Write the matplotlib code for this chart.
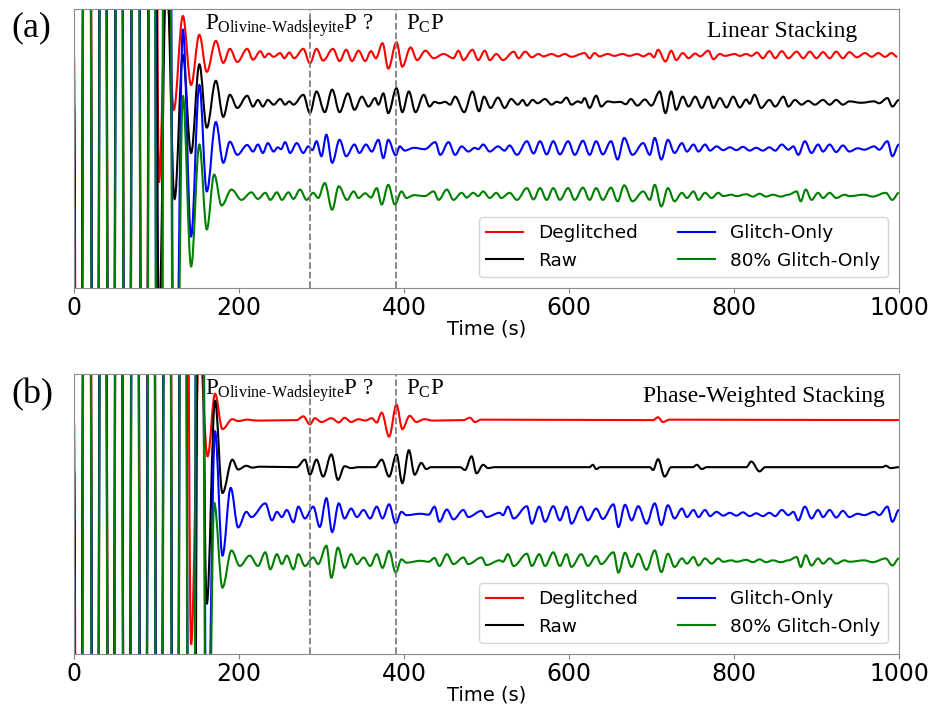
import matplotlib
matplotlib.use("Agg")
import matplotlib.pyplot as plt
from matplotlib.path import Path
from matplotlib.patches import PathPatch
from matplotlib.lines import Line2D

# stacked traces: extremum times (s) and amplitudes (in units of trace spacing)
GLITCH_A_T = [5, 16, 26, 35, 45, 55, 64, 75, 85, 95]
GLITCH_A_AMP = [-25, 25, -25, 25, -25, 25, -25, 25, -25, 25]

RED_A_T = [103, 112, 121, 132, 142, 152, 161, 172, 181, 189, 198, 210, 217, 226, 231, 236, 242, 250, 255, 261, 267,
           278, 286, 294, 302, 314, 322, 330, 337, 345, 353, 360, 366, 374, 381, 391, 398, 408, 416, 426, 436, 448,
           460, 466, 472, 483, 490, 498, 504, 512, 520, 533, 539, 547, 555, 563, 569, 579, 587, 595, 603, 619, 625,
           631, 637, 647, 655, 665, 673, 683, 690, 698, 703, 708, 717, 724, 730, 738, 745, 753, 759, 769, 775, 783,
           789, 801, 807, 815, 821, 828, 835, 843, 850, 858, 866, 876, 884, 892, 900, 908, 916, 924, 932, 940, 949,
           959, 967, 975, 983, 991, 998]
RED_A_AMP = [-2.72, 1.6, -1.17, 0.83, -0.64, 0.43, -0.36, 0.30, -0.17, 0.13, -0.15, 0.13, -0.10, 0.08, -0.05, 0.03,
             -0.04, 0.04, -0.07, 0.05, -0.07, 0.13, -0.18, 0.13, -0.12, 0.13, -0.13, 0.11, -0.13, 0.09, -0.13, 0.08,
             -0.07, 0.25, -0.29, 0.27, -0.25, 0.16, -0.11, 0.09, -0.07, 0.02, -0.07, 0.09, -0.11, 0.11, -0.11, 0.09,
             -0.11, 0.02, -0.11, 0.07, -0.07, 0.07, -0.05, 0.02, -0.03, 0.02, -0.03, 0.02, -0.04, 0.04, -0.07, 0.04,
             -0.03, 0.02, -0.02, 0.02, -0.02, 0.02, -0.03, 0.03, -0.05, 0.11, -0.14, 0.09, -0.11, 0.04, -0.07, 0.03,
             -0.03, 0.09, -0.09, 0.02, -0.02, 0.02, -0.02, 0.02, -0.02, 0.05, -0.07, 0.08, -0.07, 0.08, -0.07, 0.07,
             -0.07, 0.07, -0.07, 0.06, -0.07, 0.07, -0.07, 0.06, -0.05, 0.04, -0.04, 0.04, -0.04, 0.04, -0.04]

BLACK_A_T = [103, 112, 122, 132, 142, 152, 161, 172, 181, 189, 198, 210, 217, 223, 229, 235, 242, 250, 256, 261, 266,
             278, 286, 294, 304, 313, 322, 332, 340, 349, 357, 365, 369, 375, 381, 391, 398, 406, 414, 424, 431, 437,
             443, 450, 456, 462, 473, 483, 491, 497, 505, 514, 522, 530, 538, 544, 549, 556, 562, 571, 579, 585, 590,
             597, 603, 611, 615, 619, 625, 633, 639, 647, 655, 662, 669, 675, 683, 692, 700, 710, 717, 724, 730, 738,
             745, 753, 761, 769, 775, 783, 791, 799, 807, 815, 819, 825, 833, 843, 850, 860, 866, 874, 882, 890, 898,
             908, 916, 924, 932, 940, 954, 970, 976, 986, 992, 1000]
BLACK_A_AMP = [-5, 3, -2.07, 1.0, -1.09, 0.80, -0.55, 0.45, -0.32, 0.15, -0.13, 0.13, -0.10, 0.04, -0.10, 0.04, -0.06,
               0.06, -0.06, 0.01, -0.06, 0.15, -0.24, 0.22, -0.22, 0.26, -0.22, 0.18, -0.17, 0.11, -0.10, 0.08, -0.06,
               0.18, -0.24, 0.29, -0.22, 0.22, -0.22, 0.15, -0.10, 0.0, -0.03, 0.0, -0.06, 0.11, -0.22, 0.22, -0.20,
               0.11, -0.13, 0.09, -0.13, 0.06, -0.06, 0.04, -0.08, 0.04, -0.03, 0.06, -0.06, 0.0, -0.02, 0.09, -0.06,
               0.01, -0.02, 0.08, -0.13, 0.13, -0.10, 0.01, -0.01, 0.0, -0.05, 0.06, -0.08, 0.05, -0.08, 0.22, -0.24,
               0.22, -0.17, 0.11, -0.10, 0.11, -0.13, 0.11, -0.13, 0.08, -0.12, 0.11, -0.12, 0.05, -0.04, 0.15, -0.13,
               0.04, -0.10, 0.11, -0.10, 0.04, -0.06, 0.02, -0.06, 0.04, -0.06, 0.04, -0.06, 0.01, -0.02, 0.01, -0.03,
               0.08, -0.10, 0.04]

BLUE_A_T = [103, 112, 122, 132, 142, 152, 161, 172, 181, 189, 198, 210, 217, 223, 229, 235, 242, 247, 251, 256, 262,
            270, 278, 284, 289, 294, 300, 306, 313, 322, 330, 340, 346, 354, 361, 369, 375, 381, 390, 395, 401, 412,
            425, 438, 444, 454, 462, 470, 478, 486, 490, 496, 504, 514, 522, 528, 537, 549, 557, 565, 573, 581, 589,
            599, 607, 617, 625, 633, 641, 651, 659, 667, 677, 690, 698, 704, 712, 720, 728, 737, 743, 751, 757, 765,
            771, 779, 787, 795, 803, 811, 819, 827, 835, 843, 850, 858, 866, 872, 878, 886, 894, 902, 908, 916, 924,
            932, 940, 950, 958, 970, 976, 986, 992, 1000]
BLUE_A_AMP = [-25, 25, -8, 2.55, -1.87, 1.36, -0.91, 0.57, -0.30, 0.15, -0.13, 0.08, -0.06, 0.09, -0.09, 0.12, -0.06,
              0.03, -0.01, 0.14, -0.09, 0.12, -0.09, 0.05, -0.03, 0.16, -0.16, 0.30, -0.30, 0.19, -0.16, 0.09, -0.09,
              0.09, -0.06, 0.19, -0.20, 0.19, -0.14, 0.05, -0.04, 0.02, -0.01, 0.14, -0.13, 0.14, -0.13, 0.05, -0.06,
              0.02, -0.01, 0.09, -0.06, 0.05, -0.04, 0.07, -0.13, 0.16, -0.10, 0.16, -0.12, 0.16, -0.12, 0.16, -0.13,
              0.17, -0.13, 0.16, -0.12, 0.16, -0.23, 0.23, -0.13, 0.12, -0.13, 0.23, -0.23, 0.19, -0.09, 0.12, -0.06,
              0.09, -0.06, 0.09, -0.04, 0.05, -0.03, 0.03, -0.03, 0.04, -0.04, 0.02, -0.04, 0.03, -0.04, 0.09, -0.02,
              0.05, -0.13, 0.16, -0.09, 0.09, -0.06, 0.09, -0.07, 0.07, -0.06, 0.01, -0.02, 0.05, -0.02, 0.16, -0.16,
              0.09]

GREEN_A_T = [103, 112, 122, 132, 142, 152, 161, 170, 179, 191, 203, 215, 223, 232, 238, 246, 252, 260, 266, 274, 282,
             290, 296, 304, 313, 321, 331, 339, 345, 353, 360, 367, 373, 381, 389, 397, 403, 412, 425, 436, 442, 452,
             460, 470, 476, 484, 490, 496, 504, 512, 518, 528, 537, 549, 557, 565, 573, 581, 589, 599, 607, 617, 625,
             633, 641, 651, 659, 667, 677, 690, 698, 704, 712, 720, 728, 737, 743, 751, 757, 765, 773, 781, 787, 797,
             803, 815, 823, 831, 839, 847, 857, 866, 876, 881, 887, 894, 902, 908, 916, 924, 934, 940, 958, 968, 984,
             992, 1000]
GREEN_A_AMP = [-25, 25, -10, 2.13, -1.51, 1.09, -0.72, 0.45, -0.21, 0.13, -0.09, 0.07, -0.07, 0.06, -0.09, 0.07, -0.09,
               0.07, -0.07, 0.13, -0.09, 0.06, -0.05, 0.27, -0.30, 0.20, -0.09, 0.09, -0.05, 0.05, -0.04, 0.16, -0.19,
               0.23, -0.19, 0.09, -0.05, 0.01, -0.01, 0.09, -0.09, 0.13, -0.09, 0.06, -0.04, 0.06, -0.01, 0.09, -0.05,
               0.06, -0.05, 0.06, -0.09, 0.16, -0.08, 0.16, -0.09, 0.16, -0.09, 0.16, -0.09, 0.17, -0.09, 0.16, -0.09,
               0.17, -0.12, 0.22, -0.12, 0.09, -0.09, 0.23, -0.23, 0.16, -0.12, 0.06, -0.05, 0.09, -0.09, 0.06, -0.05,
               0.06, -0.01, 0.02, -0.01, 0.03, -0.02, 0.04, -0.02, 0.02, -0.02, 0.02, 0.09, -0.12, 0.13, -0.09, 0.06,
               -0.05, 0.06, -0.05, 0.02, -0.01, 0.02, -0.02, 0.06, -0.09, 0.06]

GLITCH_B_T = [5, 16, 26, 35, 45, 54, 64, 74, 84, 94, 103, 113, 123, 132]
GLITCH_B_AMP = [-25, 25, -25, 25, -25, 25, -25, 25, -25, 25, -25, 25, -25, 25]

RED_B_T = [142, 152, 162, 171, 180, 192, 199, 210, 222, 270, 278, 286, 292, 300, 312, 321, 328, 336, 345, 353, 361,
           367, 373, 382, 391, 398, 407, 415, 425, 435, 472, 480, 486, 494, 702, 708, 714, 722, 1000]
RED_B_AMP = [-4.77, 1.6, -0.77, 0.56, -0.19, 0.02, -0.02, 0.01, -0.01, 0.0, 0.08, -0.09, 0.04, -0.04, 0.04, -0.05,
             0.05, -0.04, 0.02, -0.01, 0.04, -0.05, 0.16, -0.35, 0.33, -0.19, 0.09, -0.04, 0.02, -0.01, 0.0, 0.05,
             -0.04, 0.01, 0.0, 0.06, -0.04, 0.01, 0.0]

BLACK_B_T = [142, 152, 161, 171, 180, 192, 199, 209, 216, 225, 270, 280, 286, 294, 302, 312, 320, 328, 336, 345, 365,
             373, 382, 391, 398, 406, 413, 421, 427, 433, 468, 474, 482, 488, 496, 502, 510, 625, 629, 633, 638, 698,
             702, 708, 716, 724, 750, 755, 761, 767, 815, 821, 831, 838, 980, 984, 990, 1000]
BLACK_B_AMP = [-25, 8, -2.91, 1.41, -0.55, 0.16, -0.05, 0.03, -0.01, 0.01, 0.0, 0.16, -0.16, 0.16, -0.20, 0.27,
               -0.27, 0.02, -0.02, 0.0, 0.0, 0.16, -0.20, 0.27, -0.34, 0.36, -0.16, 0.09, -0.04, 0.0, 0.0, -0.06,
               0.23, -0.13, 0.05, -0.02, 0.0, 0.0, 0.05, -0.04, 0.0, 0.0, -0.06, 0.17, -0.20, 0.0, 0.0, 0.05, -0.04,
               0.0, 0.0, 0.12, -0.09, 0.0, 0.0, 0.03, -0.02, 0.0]

BLUE_B_T = [142, 152, 161, 171, 180, 190, 199, 209, 215, 232, 240, 246, 252, 258, 266, 272, 280, 290, 298, 306, 313,
            321, 328, 336, 343, 351, 359, 367, 374, 382, 390, 397, 403, 420, 430, 437, 443, 452, 460, 472, 478, 494,
            500, 516, 520, 526, 533, 549, 555, 564, 571, 581, 589, 597, 603, 615, 623, 633, 641, 654, 660, 668, 676,
            684, 694, 704, 712, 720, 728, 737, 743, 751, 757, 765, 771, 779, 787, 795, 803, 811, 819, 827, 835, 843,
            850, 858, 866, 872, 878, 886, 894, 902, 908, 916, 924, 932, 940, 950, 958, 970, 976, 986, 992, 1000]
BLUE_B_AMP = [-25, 25, -6, 1.76, -0.88, 0.56, -0.28, 0.05, -0.06, 0.23, -0.13, 0.05, -0.06, 0.09, -0.17, 0.16,
              -0.09, 0.16, -0.27, 0.34, -0.38, 0.23, -0.09, 0.12, -0.06, 0.09, -0.09, 0.16, -0.09, 0.21, -0.20, 0.05,
              -0.02, 0.01, -0.01, 0.16, -0.16, 0.10, -0.11, 0.09, -0.06, 0.07, -0.06, 0.03, -0.02, 0.16, -0.09, 0.17,
              -0.20, 0.16, -0.16, 0.17, -0.13, 0.16, -0.20, 0.16, -0.13, 0.12, -0.10, 0.21, -0.27, 0.20, -0.13, 0.17,
              -0.20, 0.23, -0.23, 0.19, -0.09, 0.12, -0.06, 0.09, -0.06, 0.09, -0.04, 0.05, -0.03, 0.03, -0.03, 0.04,
              -0.04, 0.02, -0.04, 0.03, -0.04, 0.09, -0.02, 0.05, -0.13, 0.16, -0.09, 0.09, -0.06, 0.09, -0.07, 0.07,
              -0.06, 0.01, -0.02, 0.05, -0.02, 0.16, -0.16, 0.09]

GREEN_B_T = [142, 152, 161, 170, 180, 191, 201, 213, 223, 232, 238, 246, 252, 258, 266, 272, 280, 290, 296, 306, 312,
             320, 328, 336, 343, 351, 359, 367, 374, 382, 390, 397, 403, 420, 430, 437, 443, 452, 460, 472, 478, 494,
             500, 516, 520, 526, 533, 549, 555, 564, 571, 581, 589, 597, 603, 615, 623, 633, 639, 654, 660, 668, 676,
             684, 694, 704, 712, 720, 728, 737, 743, 751, 757, 765, 773, 781, 787, 797, 803, 815, 823, 831, 839, 847,
             857, 866, 876, 881, 887, 894, 902, 908, 916, 924, 934, 940, 958, 968, 984, 992, 1000]
GREEN_B_AMP = [-25, 25, -8, 1.24, -0.56, 0.23, -0.10, 0.12, -0.10, 0.19, -0.17, 0.15, -0.06, 0.12, -0.17, 0.15,
               -0.10, 0.08, -0.06, 0.33, -0.35, 0.29, -0.14, 0.15, -0.06, 0.08, -0.10, 0.15, -0.14, 0.22, -0.24, 0.04,
               -0.03, 0.01, -0.01, 0.07, -0.10, 0.15, -0.06, 0.08, -0.06, 0.08, -0.08, 0.02, -0.01, 0.15, -0.10, 0.16,
               -0.10, 0.15, -0.10, 0.19, -0.10, 0.15, -0.12, 0.15, -0.10, 0.11, -0.06, 0.19, -0.24, 0.18, -0.12, 0.16,
               -0.18, 0.23, -0.23, 0.16, -0.12, 0.06, -0.05, 0.09, -0.09, 0.06, -0.05, 0.06, -0.01, 0.02, -0.01, 0.03,
               -0.02, 0.04, -0.02, 0.02, -0.02, 0.02, 0.09, -0.12, 0.13, -0.09, 0.06, -0.05, 0.06, -0.05, 0.02, -0.01,
               0.02, -0.02, 0.06, -0.09, 0.06]

LABELS = ["Deglitched", "Raw", "Glitch-Only", "80% Glitch-Only"]
COLORS = ["red", "black", "blue", "green"]
OFFSETS = [0, -1, -2, -3]
PHASES = [286, 390]

plt.rcParams["mathtext.fontset"] = "custom"
plt.rcParams["mathtext.rm"] = "Liberation Serif"
plt.rcParams["mathtext.it"] = "Liberation Serif:italic"

K = 0.36  # bezier handle length, fraction of the gap between extrema


def trace_path(t, amp, offset):
    t = [0] + t
    amp = [0] + amp
    verts = [(t[0], amp[0] + offset)]
    codes = [Path.MOVETO]
    for i in range(1, len(t)):
        dt = t[i] - t[i - 1]
        verts.append((t[i - 1] + K * dt, amp[i - 1] + offset))
        verts.append((t[i] - K * dt, amp[i] + offset))
        verts.append((t[i], amp[i] + offset))
        codes += [Path.CURVE4] * 3
    return Path(verts, codes)


def draw_panel(ax, glitch_t, glitch_amp, traces, title, title_x):
    for (t, amp), color, off in zip(traces, COLORS, OFFSETS):
        p = trace_path(glitch_t + t, glitch_amp + amp, off)
        ax.add_patch(PathPatch(p, fill=False, edgecolor=color, lw=1.5))
    for x in PHASES:
        ax.axvline(x, color="gray", ls="--", lw=1.3)
    ax.set_xlim(0, 1000)
    ax.set_ylim(-4.97, 0.98)
    ax.set_yticks([])
    ax.set_xticks(range(0, 1001, 200))
    ax.tick_params(axis="x", labelsize=17, color="0.5", pad=2)
    ax.set_xlabel("Time (s)", fontsize=14, labelpad=0)
    for s in ax.spines.values():
        s.set_color("0.55")
    ax.text(0.159, 0.927, r"P$_{\mathrm{Olivine}\text{-}\mathrm{Wadsleyite}}$P ?", transform=ax.transAxes,
            fontsize=16.5, family="Liberation Serif", va="baseline")
    ax.text(0.402, 0.927, r"P$_{\mathrm{C}}$P", transform=ax.transAxes,
            fontsize=16.5, family="Liberation Serif", va="baseline")
    ax.text(title_x, 0.9, title, transform=ax.transAxes,
            fontsize=17, family="Liberation Serif", ha="right", va="baseline")
    handles = [Line2D([], [], color=c, lw=1.5) for c in COLORS]
    ax.legend(handles, LABELS, ncol=2, loc="lower right", fontsize=13.3, columnspacing=2.2,
              handlelength=2.0, borderaxespad=0.6)


fig = plt.figure(figsize=(9.41, 7.07), dpi=100)
ax1 = fig.add_axes([0.0786, 0.5926, 0.8767, 0.3947])
ax2 = fig.add_axes([0.0786, 0.0750, 0.8767, 0.3960])

draw_panel(ax1, GLITCH_A_T, GLITCH_A_AMP,
           [(RED_A_T, RED_A_AMP), (BLACK_A_T, BLACK_A_AMP), (BLUE_A_T, BLUE_A_AMP), (GREEN_A_T, GREEN_A_AMP)],
           "Linear Stacking", 0.95)
draw_panel(ax2, GLITCH_B_T, GLITCH_B_AMP,
           [(RED_B_T, RED_B_AMP), (BLACK_B_T, BLACK_B_AMP), (BLUE_B_T, BLUE_B_AMP), (GREEN_B_T, GREEN_B_AMP)],
           "Phase-Weighted Stacking", 0.983)

fig.text(0.012, 0.960, "(a)", fontsize=26, family="Liberation Serif", va="center")
fig.text(0.012, 0.441, "(b)", fontsize=26, family="Liberation Serif", va="center")

fig.savefig("out.png", dpi=100)
